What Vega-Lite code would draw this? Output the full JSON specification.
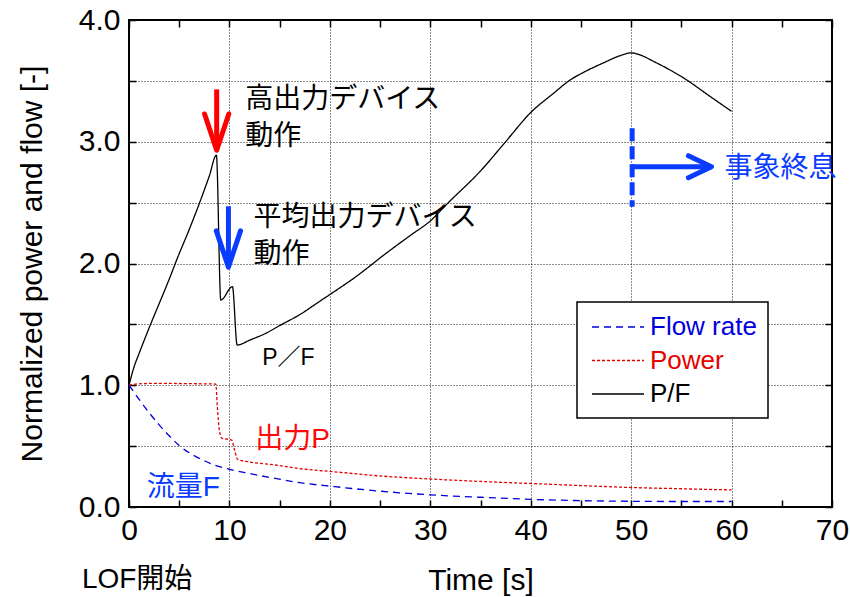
{
  "$schema": "https://vega.github.io/schema/vega-lite/v6.json",
  "width": 703,
  "height": 487,
  "autosize": "none",
  "padding": {"left": 129, "top": 20, "right": 18, "bottom": 90},
  "background": "white",
  "config": {
    "view": {"stroke": "black", "strokeWidth": 2},
    "font": "Liberation Sans",
    "axis": {
      "labelFont": "Liberation Sans",
      "titleFont": "Liberation Sans",
      "labelColor": "black",
      "titleColor": "black",
      "titleFontWeight": "normal",
      "tickColor": "black",
      "domain": false,
      "labelFontSize": 30,
      "titleFontSize": 30
    }
  },
  "datasets": {
    "lines": [
      {"s": "P/F", "t": 0, "v": 1.0}, {"s": "P/F", "t": 0.5, "v": 1.15}, {"s": "P/F", "t": 1, "v": 1.26},
      {"s": "P/F", "t": 2, "v": 1.47}, {"s": "P/F", "t": 3, "v": 1.67}, {"s": "P/F", "t": 4, "v": 1.87},
      {"s": "P/F", "t": 4.75, "v": 2.03}, {"s": "P/F", "t": 6, "v": 2.28}, {"s": "P/F", "t": 7.08, "v": 2.51},
      {"s": "P/F", "t": 8, "v": 2.72}, {"s": "P/F", "t": 8.7, "v": 2.89}, {"s": "P/F", "t": 9.14, "v": 1.70},
      {"s": "P/F", "t": 10.3, "v": 1.81}, {"s": "P/F", "t": 10.77, "v": 1.33}, {"s": "P/F", "t": 12, "v": 1.37},
      {"s": "P/F", "t": 13.7, "v": 1.43}, {"s": "P/F", "t": 15, "v": 1.49}, {"s": "P/F", "t": 17, "v": 1.58},
      {"s": "P/F", "t": 19, "v": 1.69}, {"s": "P/F", "t": 20, "v": 1.745}, {"s": "P/F", "t": 22.4, "v": 1.88},
      {"s": "P/F", "t": 25.7, "v": 2.09}, {"s": "P/F", "t": 28, "v": 2.23}, {"s": "P/F", "t": 30, "v": 2.35},
      {"s": "P/F", "t": 31.8, "v": 2.5}, {"s": "P/F", "t": 35, "v": 2.76}, {"s": "P/F", "t": 37.5, "v": 3.0},
      {"s": "P/F", "t": 40, "v": 3.24}, {"s": "P/F", "t": 42.3, "v": 3.40}, {"s": "P/F", "t": 43.8, "v": 3.5},
      {"s": "P/F", "t": 45.5, "v": 3.58}, {"s": "P/F", "t": 47.3, "v": 3.65}, {"s": "P/F", "t": 49, "v": 3.71},
      {"s": "P/F", "t": 50, "v": 3.73}, {"s": "P/F", "t": 51, "v": 3.71}, {"s": "P/F", "t": 52, "v": 3.67},
      {"s": "P/F", "t": 55.3, "v": 3.52}, {"s": "P/F", "t": 57.9, "v": 3.37}, {"s": "P/F", "t": 60, "v": 3.25},
      {"s": "Power", "t": 0, "v": 1.0}, {"s": "Power", "t": 1, "v": 1.012}, {"s": "Power", "t": 3, "v": 1.016},
      {"s": "Power", "t": 6, "v": 1.013}, {"s": "Power", "t": 8.64, "v": 1.01}, {"s": "Power", "t": 8.8, "v": 0.82},
      {"s": "Power", "t": 9.0, "v": 0.63}, {"s": "Power", "t": 9.24, "v": 0.565}, {"s": "Power", "t": 10.24, "v": 0.55},
      {"s": "Power", "t": 10.5, "v": 0.47}, {"s": "Power", "t": 10.83, "v": 0.39}, {"s": "Power", "t": 12, "v": 0.37},
      {"s": "Power", "t": 14.55, "v": 0.345}, {"s": "Power", "t": 17, "v": 0.315}, {"s": "Power", "t": 20.37, "v": 0.29},
      {"s": "Power", "t": 25, "v": 0.255}, {"s": "Power", "t": 30, "v": 0.23}, {"s": "Power", "t": 35, "v": 0.21},
      {"s": "Power", "t": 40, "v": 0.193}, {"s": "Power", "t": 45, "v": 0.176}, {"s": "Power", "t": 50, "v": 0.16},
      {"s": "Power", "t": 55, "v": 0.15}, {"s": "Power", "t": 60, "v": 0.14},
      {"s": "Flow rate", "t": 0, "v": 1.0}, {"s": "Flow rate", "t": 1, "v": 0.885}, {"s": "Flow rate", "t": 2, "v": 0.775},
      {"s": "Flow rate", "t": 3, "v": 0.675}, {"s": "Flow rate", "t": 4, "v": 0.585}, {"s": "Flow rate", "t": 5, "v": 0.505},
      {"s": "Flow rate", "t": 6, "v": 0.445}, {"s": "Flow rate", "t": 7.25, "v": 0.39}, {"s": "Flow rate", "t": 8.5, "v": 0.345},
      {"s": "Flow rate", "t": 10, "v": 0.31}, {"s": "Flow rate", "t": 12, "v": 0.275}, {"s": "Flow rate", "t": 14.55, "v": 0.235},
      {"s": "Flow rate", "t": 17, "v": 0.2}, {"s": "Flow rate", "t": 20.5, "v": 0.167}, {"s": "Flow rate", "t": 25, "v": 0.13},
      {"s": "Flow rate", "t": 30, "v": 0.10}, {"s": "Flow rate", "t": 35, "v": 0.08}, {"s": "Flow rate", "t": 40, "v": 0.063},
      {"s": "Flow rate", "t": 45, "v": 0.052}, {"s": "Flow rate", "t": 50, "v": 0.047}, {"s": "Flow rate", "t": 55, "v": 0.045},
      {"s": "Flow rate", "t": 60, "v": 0.045}
    ],
    "notes": [
      {"g": "note", "txt": "高出力デバイス", "x": 11.57, "y": 3.34},
      {"g": "note", "txt": "動作", "x": 11.57, "y": 3.04},
      {"g": "note", "txt": "平均出力デバイス", "x": 12.4, "y": 2.37},
      {"g": "note", "txt": "動作", "x": 12.4, "y": 2.07},
      {"g": "note", "txt": "LOF開始", "x": -4.69, "y": -0.6},
      {"g": "pf", "txt": "P／F", "x": 13.26, "y": 1.22},
      {"g": "power", "txt": "出力P", "x": 12.56, "y": 0.55},
      {"g": "flow", "txt": "流量F", "x": 1.76, "y": 0.156},
      {"g": "flow", "txt": "事象終息", "x": 59.3, "y": 2.78}
    ],
    "shafts": [
      {"g": "red", "x": 8.73, "y": 3.43, "x2": 8.73, "y2": 2.93},
      {"g": "blue", "x": 9.9, "y": 2.47, "x2": 9.9, "y2": 1.97},
      {"g": "blue", "x": 50.1, "y": 2.795, "x2": 58.0, "y2": 2.795}
    ],
    "heads": [
      {"g": "red", "dir": "down", "x": 8.73, "y": 2.93},
      {"g": "blue", "dir": "down", "x": 9.9, "y": 1.97},
      {"g": "blue", "dir": "right", "x": 58.0, "y": 2.795}
    ],
    "end": [
      {"x": 50.1, "y": 3.11, "y2": 2.467}
    ]
  },
  "layer": [
    {
      "data": {"name": "lines"},
      "mark": {"type": "line", "strokeWidth": 1.3, "interpolate": "monotone"},
      "encoding": {
        "x": {
          "field": "t", "type": "quantitative",
          "scale": {"domain": [0, 70], "nice": false, "zero": false},
          "axis": {
            "title": "Time [s]", "titlePadding": 20,
            "values": [0, 5, 10, 15, 20, 25, 30, 35, 40, 45, 50, 55, 60, 65, 70],
            "labelExpr": "datum.value % 10 === 0 ? datum.label : ''",
            "format": "d", "labelOverlap": false, "labelFlush": false, "labelBound": false,
            "labelPadding": 15, "tickSize": -7, "tickWidth": 1.5,
            "grid": true, "gridDash": [1, 2], "gridColor": "#000", "gridWidth": 1,
            "gridOpacity": {"condition": {"test": "datum.value % 10 === 0 && datum.value > 0 && datum.value < 70", "value": 0.9}, "value": 0}
          }
        },
        "y": {
          "field": "v", "type": "quantitative",
          "scale": {"domain": [0, 4], "nice": false},
          "axis": {
            "title": "Normalized power and flow [-]", "titlePadding": 31,
            "values": [0, 0.5, 1, 1.5, 2, 2.5, 3, 3.5, 4],
            "labelExpr": "datum.value % 1 === 0 ? format(datum.value, '.1f') : ''",
            "labelOverlap": false, "labelFlush": false, "labelBound": false,
            "labelPadding": 16, "tickSize": -7, "tickWidth": 1.5,
            "grid": true, "gridDash": [1, 2], "gridColor": "#000", "gridWidth": 1,
            "gridOpacity": {"condition": {"test": "datum.value > 0 && datum.value < 4", "value": 0.9}, "value": 0}
          }
        },
        "color": {
          "field": "s", "type": "nominal",
          "scale": {"domain": ["Flow rate", "Power", "P/F"], "range": ["#0000dd", "#e60000", "#000000"]},
          "legend": {
            "title": null, "orient": "none", "legendX": 448, "legendY": 282,
            "padding": 11, "rowPadding": 6.5, "labelFontSize": 26, "labelFont": "Liberation Sans",
            "symbolType": "M-2,0H2", "symbolSize": 676, "symbolStrokeWidth": 1.4,
            "symbolOffset": 16, "labelOffset": 18,
            "fillColor": "white", "strokeColor": "black",
            "encode": {
              "labels": {"update": {"fill": {"signal": "scale('color', datum.value)"}}},
              "legend": {"update": {"strokeWidth": {"value": 1.5}}}
            }
          }
        },
        "strokeDash": {
          "field": "s", "type": "nominal",
          "scale": {"domain": ["Flow rate", "Power", "P/F"], "range": [[7, 5], [3, 2], [1, 0]]}
        }
      }
    },
    {
      "data": {"name": "lines"},
      "mark": {"type": "point", "opacity": 0},
      "encoding": {
        "x": {
          "field": "t", "type": "quantitative",
          "axis": {
            "orient": "top", "title": null, "labels": false, "grid": false,
            "values": [0, 5, 10, 15, 20, 25, 30, 35, 40, 45, 50, 55, 60, 65, 70],
            "tickSize": -7, "tickWidth": 1.5
          }
        },
        "y": {
          "field": "v", "type": "quantitative",
          "axis": {
            "orient": "right", "title": null, "labels": false, "grid": false,
            "values": [0, 0.5, 1, 1.5, 2, 2.5, 3, 3.5, 4],
            "tickSize": -7, "tickWidth": 1.5
          }
        }
      }
    },
    {
      "data": {"name": "end"},
      "mark": {"type": "rule", "color": "#0a3cff", "strokeWidth": 5, "strokeDash": [13, 5]},
      "encoding": {
        "x": {"field": "x", "type": "quantitative", "axis": null},
        "y": {"field": "y", "type": "quantitative", "axis": null},
        "y2": {"field": "y2"}
      }
    },
    {
      "data": {"name": "shafts"},
      "transform": [{"filter": "datum.g === 'red'"}],
      "mark": {"type": "rule", "color": "#ff0000", "strokeWidth": 5},
      "encoding": {
        "x": {"field": "x", "type": "quantitative", "axis": null},
        "y": {"field": "y", "type": "quantitative", "axis": null},
        "x2": {"field": "x2"},
        "y2": {"field": "y2"}
      }
    },
    {
      "data": {"name": "shafts"},
      "transform": [{"filter": "datum.g === 'blue'"}],
      "mark": {"type": "rule", "color": "#0a3cff", "strokeWidth": 5},
      "encoding": {
        "x": {"field": "x", "type": "quantitative", "axis": null},
        "y": {"field": "y", "type": "quantitative", "axis": null},
        "x2": {"field": "x2"},
        "y2": {"field": "y2"}
      }
    },
    {
      "data": {"name": "heads"},
      "transform": [{"filter": "datum.g === 'red'"}],
      "mark": {"type": "point", "filled": false, "color": "#ff0000", "strokeWidth": 5, "size": 484, "opacity": 1, "strokeJoin": "round", "strokeCap": "round"},
      "encoding": {
        "x": {"field": "x", "type": "quantitative", "axis": null},
        "y": {"field": "y", "type": "quantitative", "axis": null},
        "shape": {"field": "dir", "type": "nominal", "legend": null,
          "scale": {"domain": ["down", "right"], "range": ["M-1.1,-3.3L0,0L1.1,-3.3", "M-2.1,-1L0,0L-2.1,1"]}}
      }
    },
    {
      "data": {"name": "heads"},
      "transform": [{"filter": "datum.g === 'blue'"}],
      "mark": {"type": "point", "filled": false, "color": "#0a3cff", "strokeWidth": 5, "size": 484, "opacity": 1, "strokeJoin": "round", "strokeCap": "round"},
      "encoding": {
        "x": {"field": "x", "type": "quantitative", "axis": null},
        "y": {"field": "y", "type": "quantitative", "axis": null},
        "shape": {"field": "dir", "type": "nominal", "legend": null,
          "scale": {"domain": ["down", "right"], "range": ["M-1.1,-3.3L0,0L1.1,-3.3", "M-2.1,-1L0,0L-2.1,1"]}}
      }
    },
    {
      "data": {"name": "notes"},
      "transform": [{"filter": "datum.g === 'note'"}],
      "mark": {"type": "text", "align": "left", "baseline": "middle", "fontSize": 28, "font": "Liberation Sans, Noto Sans CJK JP", "color": "#000000"},
      "encoding": {
        "x": {"field": "x", "type": "quantitative", "axis": null},
        "y": {"field": "y", "type": "quantitative", "axis": null},
        "text": {"field": "txt"}
      }
    },
    {
      "data": {"name": "notes"},
      "transform": [{"filter": "datum.g === 'pf'"}],
      "mark": {"type": "text", "align": "left", "baseline": "middle", "fontSize": 23, "font": "Liberation Sans, Noto Sans CJK JP", "color": "#000000"},
      "encoding": {
        "x": {"field": "x", "type": "quantitative", "axis": null},
        "y": {"field": "y", "type": "quantitative", "axis": null},
        "text": {"field": "txt"}
      }
    },
    {
      "data": {"name": "notes"},
      "transform": [{"filter": "datum.g === 'power'"}],
      "mark": {"type": "text", "align": "left", "baseline": "middle", "fontSize": 28, "font": "Liberation Sans, Noto Sans CJK JP", "color": "#ff0a0a"},
      "encoding": {
        "x": {"field": "x", "type": "quantitative", "axis": null},
        "y": {"field": "y", "type": "quantitative", "axis": null},
        "text": {"field": "txt"}
      }
    },
    {
      "data": {"name": "notes"},
      "transform": [{"filter": "datum.g === 'flow'"}],
      "mark": {"type": "text", "align": "left", "baseline": "middle", "fontSize": 28, "font": "Liberation Sans, Noto Sans CJK JP", "color": "#0a3cff"},
      "encoding": {
        "x": {"field": "x", "type": "quantitative", "axis": null},
        "y": {"field": "y", "type": "quantitative", "axis": null},
        "text": {"field": "txt"}
      }
    }
  ],
  "resolve": {"axis": {"x": "independent", "y": "independent"}}
}
